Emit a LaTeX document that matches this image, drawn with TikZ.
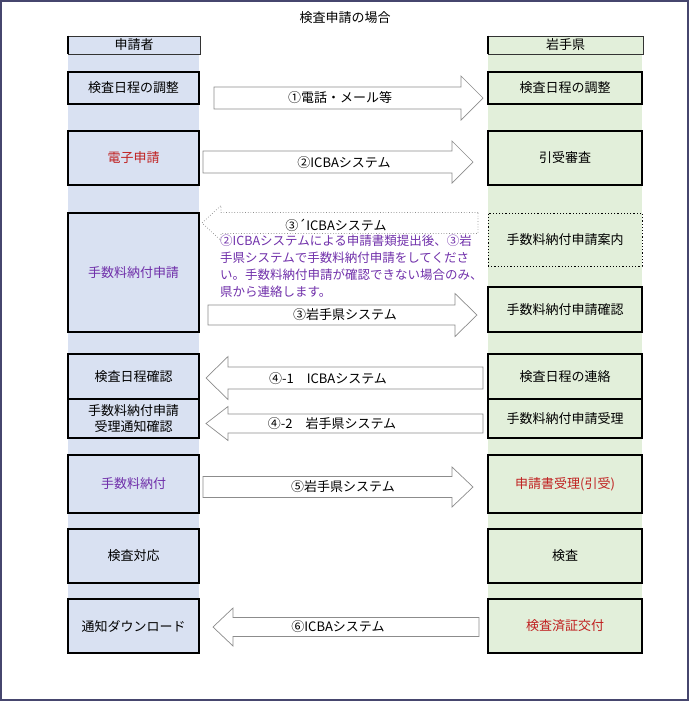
\documentclass[tikz,border=0pt]{standalone}
\usepackage{fontspec}
\setmainfont{Noto Sans CJK JP}

\definecolor{appfill}{RGB}{217,225,242}
\definecolor{preffill}{RGB}{226,239,218}
\definecolor{redtxt}{RGB}{192,32,32}
\definecolor{purptxt}{RGB}{112,48,170}
\definecolor{framecol}{RGB}{70,70,110}

% block arrow: [style]{tail x}{head base x}{tip x}{centre y}{body half}{head half}
\newcommand{\blockarrow}[7][]{%
  \draw[blk,#1] (#2,#5-#6) -- (#3,#5-#6) -- (#3,#5-#7) -- (#4,#5)
    -- (#3,#5+#7) -- (#3,#5+#6) -- (#2,#5+#6) -- cycle;}

\begin{document}
\begin{tikzpicture}[
  x=1pt, y=-1pt,
  box/.style     = {draw, line width=1.2pt, inner sep=0pt, outer sep=0pt,
                    align=center, font=\fontsize{13}{16}\selectfont},
  appbox/.style  = {box, fill=appfill, minimum width=131pt},
  prefbox/.style = {box, fill=preffill, minimum width=154pt},
  hdr/.style     = {draw=black!80, line width=0.7pt, inner sep=0pt,
                    minimum height=18pt, font=\fontsize{13}{15}\selectfont},
  blk/.style     = {draw=gray!90, fill=white, line width=0.7pt},
  albl/.style    = {font=\fontsize{13}{15}\selectfont},
  note/.style    = {inner sep=0pt, align=left, text=purptxt,
                    font=\fontsize{12.5}{17}\selectfont}
]
\useasboundingbox (0,0) rectangle (690,702);
\draw[framecol, line width=1.2pt] (1,1) rectangle (688,700);

\node[albl] (title) at (345,18) {検査申請の場合};

% ---- LANES ----
\fill[appfill]  (68,54)  rectangle (199,653);
\fill[preffill] (488,54) rectangle (642,653);

\node[hdr, fill=appfill, minimum width=132pt] (apphdr) at (134,45) {申請者};
\draw[line width=2pt] (apphdr.north west) -- (apphdr.south west);
\node[hdr, fill=preffill, minimum width=155pt] (prefhdr) at (565.5,45) {岩手県};
\draw[line width=2pt] (prefhdr.north west) -- (prefhdr.south west);

% ---- APPLICANT SIDE ----
\node[appbox, minimum height=32pt] (app1) at (133.5,88)    {検査日程の調整};
\node[appbox, minimum height=54pt, text=redtxt] (app2) at (133.5,158) {電子申請};
\node[appbox, minimum height=119pt, text=purptxt] (app3) at (133.5,272.5) {手数料納付申請};
\node[appbox, minimum height=45pt] (app4) at (133.5,376.5) {検査日程確認};
\node[appbox, minimum height=39pt] (app5) at (133.5,418.5) {手数料納付申請\\受理通知確認};
\node[appbox, minimum height=58pt, text=purptxt] (app6) at (133.5,484) {手数料納付};
\node[appbox, minimum height=54pt] (app7) at (133.5,556)   {検査対応};
\node[appbox, minimum height=54pt] (app8) at (133.5,626)   {通知ダウンロード};

% ---- PREFECTURE SIDE ----
\node[prefbox, minimum height=32pt] (pref1) at (565,88)    {検査日程の調整};
\node[prefbox, minimum height=54pt] (pref2) at (565,158)   {引受審査};
\node[prefbox, minimum height=53pt, dotted, line width=0.8pt] (pref3) at (565,239.5) {手数料納付申請案内};
\node[prefbox, minimum height=45pt] (pref4) at (565,309.5) {手数料納付申請確認};
\node[prefbox, minimum height=45pt] (pref5) at (565,376.5) {検査日程の連絡};
\node[prefbox, minimum height=39pt] (pref6) at (565,418.5) {手数料納付申請受理};
\node[prefbox, minimum height=58pt, text=redtxt] (pref7) at (565,484) {申請書受理(引受)};
\node[prefbox, minimum height=54pt] (pref8) at (565,556)   {検査};
\node[prefbox, minimum height=54pt, text=redtxt] (pref9) at (565,626) {検査済証交付};

% ---- ARROWS ----
\blockarrow{214}{461}{483}{98}{11}{22}
\node[albl] (a1) at (340,98) {①電話・メール等};

\blockarrow{203}{452}{473}{162}{11}{21}
\node[albl] (a2) at (344,163) {②ICBAシステム};

\blockarrow[dotted]{478}{221}{202}{223}{10.5}{17.5}
\node[albl] (a3x) at (336,225) {③´ICBAシステム};
\node[note, anchor=north west] (memo) at (220,235)
  {②ICBAシステムによる申請書類提出後、③岩\\
   手県システムで手数料納付申請をしてくださ\\
   い。手数料納付申請が確認できない場合のみ、\\
   県から連絡します。};

\blockarrow{208}{455}{477}{315}{10}{21.5}
\node[albl] (a3) at (345,315) {③岩手県システム};

\blockarrow{483}{228}{206}{378}{11}{21.5}
\node[albl] (a41) at (328,379) {④-1　ICBAシステム};

\blockarrow{483}{228}{206}{423.5}{9.5}{17}
\node[albl] (a42) at (332,423.5) {④-2　岩手県システム};

\blockarrow{203}{452}{473}{487}{10.5}{20}
\node[albl] (a5) at (343,487) {⑤岩手県システム};

\blockarrow{479}{233}{213}{627}{9.5}{19}
\node[albl] (a6) at (338,627) {⑥ICBAシステム};

\end{tikzpicture}
\end{document}
